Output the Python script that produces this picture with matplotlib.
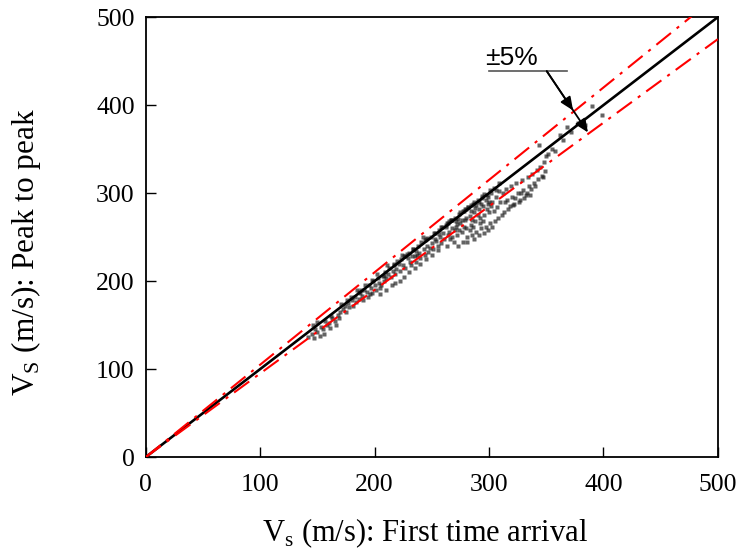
#!/usr/bin/env python3
"""Vs: peak-to-peak vs first time arrival, with +/-5% bounds."""

import numpy as np
import matplotlib.pyplot as plt

plt.rcParams["font.family"] = ["Liberation Serif", "DejaVu Serif"]
plt.rcParams["mathtext.fontset"] = "custom"
plt.rcParams["mathtext.rm"] = "Liberation Serif"

VS_FIRST = [
    142, 145, 147, 148, 150, 152, 153, 155, 156, 158, 160, 161, 163, 165, 166, 168, 169, 170, 146, 157,
    172, 174, 175, 177, 178, 180, 181, 183, 184, 186, 187, 189, 190, 191, 193, 194, 195, 197, 198, 199,
    200, 201, 203, 204, 205, 207, 208, 209, 210, 212, 213, 214, 216, 217, 218, 219, 185, 192, 202, 211,
    196, 206, 205, 210, 215, 222, 226, 230, 218, 235, 240, 245, 250, 255,
    221, 222, 223, 225, 226, 227, 229, 230, 231, 232, 234, 235, 236, 238, 239, 240, 241, 243, 244, 245,
    246, 247, 249, 250, 251, 252, 254, 255, 256, 257, 258, 259, 237, 248, 253, 224, 242, 233,
    260, 261, 262, 263, 264, 265, 266, 267, 268, 269, 270, 271, 272, 273, 274, 275, 276, 277, 278, 279,
    280, 281, 282, 283, 284, 285, 286, 287, 288, 289, 290, 291, 292, 293, 294, 295, 296, 297, 298, 299,
    300, 301, 302, 303, 304, 305, 306, 307, 308, 309, 310,
    265, 270, 275, 280, 285, 290, 295, 300, 272, 278, 283, 288, 293, 298, 276, 284, 292, 297, 302, 268,
    280, 286, 264, 274, 296, 299, 303, 291, 281, 287,
    311, 312, 313, 315, 316, 317, 318, 319, 320, 321, 322, 324, 325, 326, 327, 329, 330, 331, 332, 334,
    335, 336, 338, 339, 340, 342, 343, 345, 346, 348, 349, 350, 347, 337, 328, 314, 323, 333,
    352, 355, 358, 362, 368, 372, 378, 384, 390, 399, 344, 365,
    # points hugging the 1:1 line
    150, 162, 171, 179, 188, 198, 208, 217, 227, 236, 246, 256, 263, 268, 273, 279, 284, 289, 294, 299,
    304, 309, 262, 267, 271, 277, 282, 287, 291, 296, 301, 306, 258, 253, 244, 234, 228, 220, 186, 176,
]
VS_PEAK = [
    137, 140, 135, 145, 142, 138, 148, 146, 140, 150, 152, 147, 158, 155, 150, 162, 158, 165, 150, 155,
    168, 172, 165, 175, 170, 178, 172, 182, 176, 180, 186, 183, 178, 190, 188, 182, 196, 192, 186, 200,
    195, 190, 204, 198, 192, 206, 200, 210, 203, 208, 215, 205, 212, 218, 208, 214, 190, 195, 208, 218,
    185, 195, 185, 190, 196, 200, 205, 210, 198, 215, 220, 225, 230, 235,
    220, 212, 225, 218, 228, 215, 226, 232, 222, 218, 236, 228, 222, 240, 232, 226, 244, 236, 230, 248,
    240, 233, 250, 243, 236, 255, 246, 240, 258, 250, 243, 262, 230, 238, 248, 230, 250, 228,
    255, 248, 262, 240, 266, 256, 248, 270, 260, 245, 272, 262, 252, 240, 276, 266, 256, 245, 280, 270,
    260, 250, 284, 274, 264, 252, 288, 278, 268, 256, 292, 282, 272, 260, 295, 285, 275, 262, 298, 288,
    278, 266, 300, 290, 280, 268, 296, 284, 272, 302, 290,
    268, 258, 278, 282, 270, 275, 268, 290, 265, 262, 258, 283, 288, 282, 270, 280, 266, 292, 285, 250,
    272, 262, 252, 258, 255, 258, 262, 252, 244, 248,
    275, 300, 278, 305, 292, 282, 285, 308, 296, 286, 288, 312, 300, 290, 292, 315, 304, 294, 298, 318,
    308, 298, 322, 312, 308, 326, 316, 330, 320, 335, 325, 342, 318, 305, 300, 290, 295, 300,
    345, 350, 348, 366, 375, 370, 380, 378, 399, 389, 355, 360,
    153, 160, 174, 182, 190, 201, 206, 220, 229, 234, 249, 254, 266, 270, 271, 282, 286, 287, 297, 296,
    306, 311, 264, 270, 268, 280, 284, 290, 290, 299, 303, 304, 261, 255, 247, 237, 231, 223, 188, 179,
]

LINE_X = [0, 500]
BOUNDS = [1.05, 0.95]

fig = plt.figure(figsize=(7.4, 5.54), dpi=100)
ax = fig.add_axes([0.197, 0.175, 0.773, 0.794])

ax.plot(VS_FIRST, VS_PEAK, "s", ms=3.2, mfc="#1a1a1a", mec="none", alpha=0.68, zorder=2)
ax.plot(LINE_X, LINE_X, color="black", lw=1.9, zorder=3)
for k in BOUNDS:
    ax.plot(LINE_X, np.array(LINE_X) * k, color="red", lw=1.5,
            ls=(0, (9, 3.5, 1.5, 3.5)), zorder=4)

# +/-5% label with underline and arrows
ax.text(320, 440, "±5%", fontsize=19, family=["Liberation Sans", "DejaVu Sans"],
        ha="center", va="bottom")
ax.plot([300, 368], [438.6, 438.6], color="#555555", lw=1.2, zorder=5, clip_on=False)
for tip in [(373.5, 394), (386.5, 369)]:
    ax.annotate("", xy=tip, xytext=(350.5, 438.6),
                arrowprops=dict(arrowstyle="-|>,head_length=0.8,head_width=0.35",
                                color="black", lw=1.3, shrinkA=0, shrinkB=0), zorder=6)

ax.set_xlim(0, 500)
ax.set_ylim(0, 500)
ax.set_xticks(range(0, 501, 100))
ax.set_yticks(range(0, 501, 100))
ax.tick_params(direction="in", length=7, width=1, labelsize=18.5, pad=12)
ax.tick_params(axis="y", pad=8)
for s in ax.spines.values():
    s.set_linewidth(1.3)

ax.set_xlabel(r"V$_\mathregular{s}$ (m/s): First time arrival", fontsize=22)
ax.set_ylabel(r"V$_\mathregular{S}$ (m/s): Peak to peak", fontsize=22.5)
ax.xaxis.set_label_coords(0.488, -0.135)
ax.yaxis.set_label_coords(-0.18, 0.465)

plt.savefig("out.png", dpi=100)
plt.close()
